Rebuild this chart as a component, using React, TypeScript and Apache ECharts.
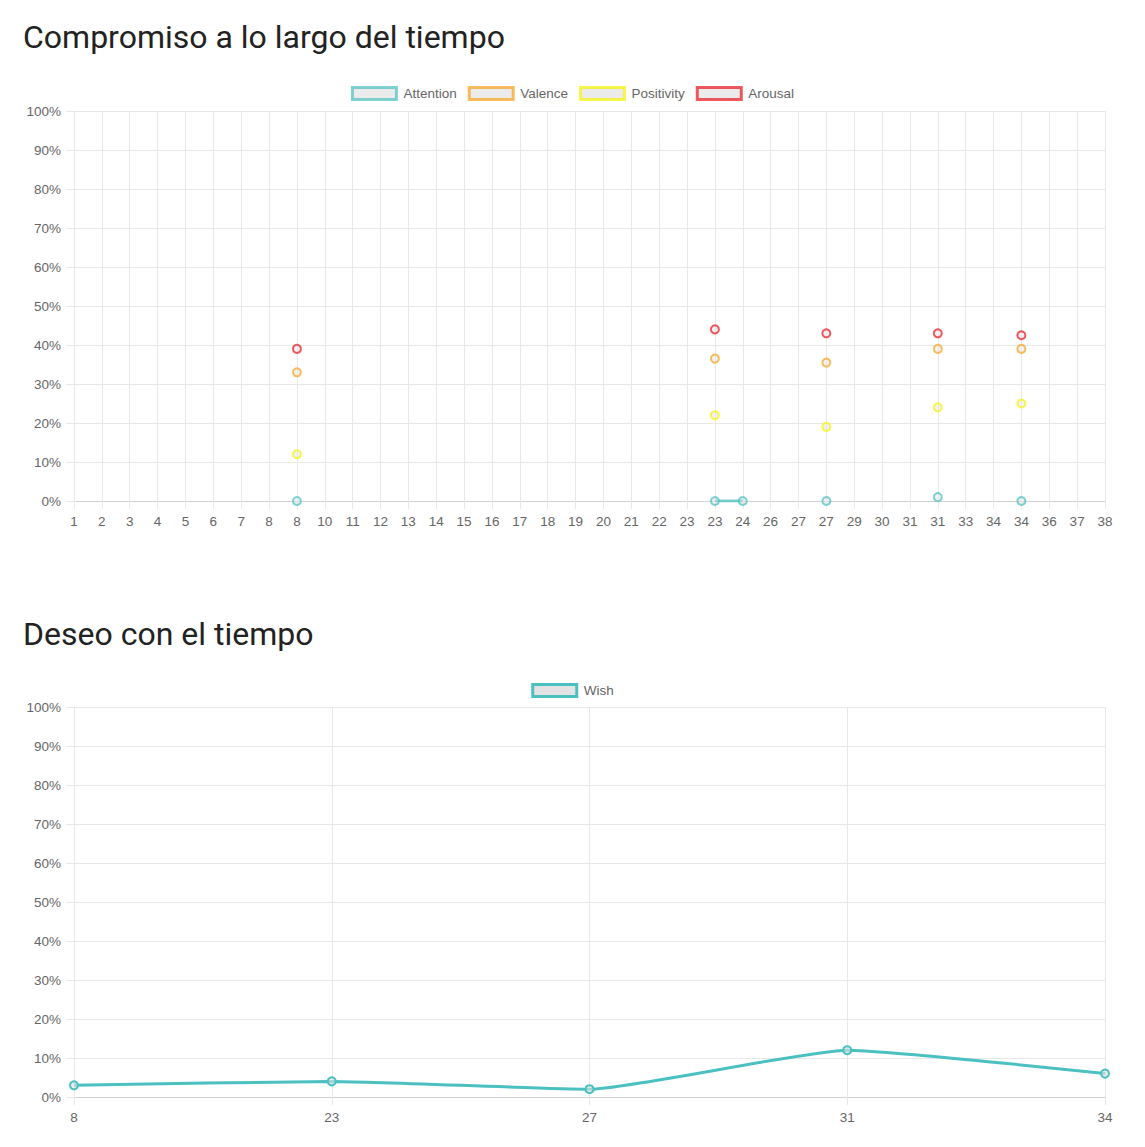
import React, { useEffect, useRef } from 'react';
import * as echarts from 'echarts';

// chart 1: compromiso
const sessionLabels = [
  '1', '2', '3', '4', '5', '6', '7', '8', '8', '10', '11', '12', '13', '14', '15', '16', '17', '18', '19',
  '20', '21', '22', '23', '23', '24', '26', '27', '27', '29', '30', '31', '31', '33', '34', '34', '36', '37', '38',
];
const _ = null;
const attention = [_, _, _, _, _, _, _, _, 0, _, _, _, _, _, _, _, _, _, _, _, _, _, _, 0, 0, _, _, 0, _, _, _, 1, _, _, 0, _, _, _];
const valence = [_, _, _, _, _, _, _, _, 33, _, _, _, _, _, _, _, _, _, _, _, _, _, _, 36.5, _, _, _, 35.5, _, _, _, 39, _, _, 39, _, _, _];
const positivity = [_, _, _, _, _, _, _, _, 12, _, _, _, _, _, _, _, _, _, _, _, _, _, _, 22, _, _, _, 19, _, _, _, 24, _, _, 25, _, _, _];
const arousal = [_, _, _, _, _, _, _, _, 39, _, _, _, _, _, _, _, _, _, _, _, _, _, _, 44, _, _, _, 43, _, _, _, 43, _, _, 42.5, _, _, _];

// chart 2: deseo
const wishLabels = ['8', '23', '27', '31', '34'];
const wish = [3, 4, 2, 12, 6];

const TEAL = 'rgb(75,192,192)';
const ORANGE = '#f7a21b';
const YELLOW = '#f5f500';
const RED = '#e8141c';
const BOX_FILL = '#e3e3e3';
const GRID = '#e8e8e8';
const LABEL = '#666';
const SANS = '"Liberation Sans", Arial, sans-serif';

const App: React.FC = () => {
  const chartRef = useRef<HTMLDivElement>(null);

  useEffect(() => {
    document.body.style.margin = '0';
    if (!chartRef.current) return;
    const chart = echarts.init(chartRef.current, undefined, { renderer: 'svg' });

    const engage = [
      { name: 'Attention', color: TEAL, data: attention },
      { name: 'Valence', color: ORANGE, data: valence },
      { name: 'Positivity', color: YELLOW, data: positivity },
      { name: 'Arousal', color: RED, data: arousal },
    ];

    const legendBase = {
      icon: 'rect',
      itemWidth: 44,
      itemHeight: 12,
      itemGap: 11,
      padding: 0,
      left: 'center',
      textStyle: { color: LABEL, fontSize: 13.5, fontFamily: SANS, padding: [0, 0, 0, 2] },
    };

    const xAxisBase = (data: string[], gridIndex: number) => ({
      type: 'category',
      gridIndex,
      data,
      boundaryGap: false,
      axisLine: { show: true, lineStyle: { color: '#d0d0d0' } },
      axisTick: { show: true, length: 8, interval: 0, lineStyle: { color: GRID } },
      axisLabel: { interval: 0, color: LABEL, fontSize: 13.5, fontFamily: SANS, margin: 13 },
      splitLine: { show: true, interval: 0, lineStyle: { color: GRID } },
    });

    const yAxisBase = (gridIndex: number) => ({
      type: 'value',
      gridIndex,
      min: 0,
      max: 100,
      interval: 10,
      axisLine: { show: true, lineStyle: { color: GRID } },
      axisTick: { show: true, length: 8, lineStyle: { color: GRID } },
      axisLabel: { formatter: '{value}%', color: LABEL, fontSize: 13.5, fontFamily: SANS, margin: 13 },
      splitLine: { show: true, lineStyle: { color: GRID } },
    });

    const titleStyle = { fontFamily: 'Roboto', fontSize: 32, fontWeight: 'normal', color: '#222' };

    const option = {
      animation: false,
      backgroundColor: '#fff',
      title: [
        { text: 'Compromiso a lo largo del tiempo', left: 23, top: 21, padding: 0, textStyle: titleStyle },
        { text: 'Deseo con el tiempo', left: 23, top: 618, padding: 0, textStyle: titleStyle },
      ],
      legend: [
        {
          ...legendBase,
          top: 86,
          data: engage.map((s) => ({
            name: s.name,
            itemStyle: { color: BOX_FILL, borderColor: s.color, borderWidth: 3 },
          })),
        },
        {
          ...legendBase,
          top: 683,
          data: [{ name: 'Wish', itemStyle: { color: BOX_FILL, borderColor: TEAL, borderWidth: 3 } }],
        },
      ],
      grid: [
        { left: 74, right: 40, top: 111, height: 390 },
        { left: 74, right: 40, top: 707, height: 390 },
      ],
      xAxis: [xAxisBase(sessionLabels, 0), xAxisBase(wishLabels, 1)],
      yAxis: [yAxisBase(0), yAxisBase(1)],
      series: [
        ...engage.map((s) => ({
          name: s.name,
          type: 'line',
          xAxisIndex: 0,
          yAxisIndex: 0,
          data: s.data,
          connectNulls: false,
          symbol: 'circle',
          symbolSize: 8,
          lineStyle: { color: s.color, width: 3, opacity: 0.75 },
          itemStyle: { color: 'rgba(225,225,225,0.6)', borderColor: s.color, borderWidth: 2, opacity: 0.7 },
        })),
        {
          name: 'Wish',
          type: 'line',
          xAxisIndex: 1,
          yAxisIndex: 1,
          data: wish,
          smooth: 0.15,
          symbol: 'circle',
          symbolSize: 8,
          lineStyle: { color: TEAL, width: 3 },
          itemStyle: { color: 'rgba(225,225,225,0.6)', borderColor: TEAL, borderWidth: 2 },
        },
      ],
    };

    chart.setOption(option as any);

    return () => {
      chart.dispose();
    };
  }, []);

  return <div ref={chartRef} style={{ width: '1145px', height: '1147px' }}></div>;
};

export default App;
